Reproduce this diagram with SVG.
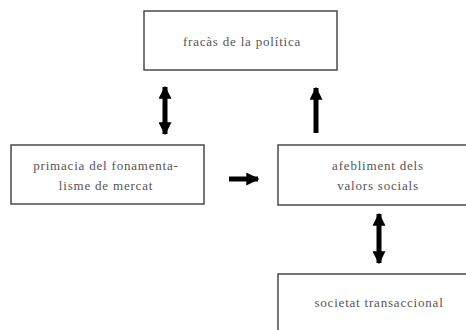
<svg xmlns="http://www.w3.org/2000/svg" width="466" height="330" viewBox="0 0 466 330">
<style>
.box{fill:#fff;stroke:#4a4a4a;stroke-width:1.5}
.t{font-family:"Liberation Serif",serif;font-size:13px;letter-spacing:0.8px;fill:#555;text-anchor:middle}
.a{stroke:#000;stroke-width:5;fill:none}
</style>
<defs>
<marker id="h" viewBox="0 0 10 10" refX="9" refY="5" markerWidth="13" markerHeight="13" markerUnits="userSpaceOnUse" orient="auto-start-reverse">
<path d="M0,0 L10,5 L0,10 Z" fill="#000"/>
</marker>
</defs>
<rect width="466" height="330" fill="#fff"/>
<g id="n1"><rect class="box" x="144" y="11" width="193" height="59"/><text class="t" x="242" y="46">fracàs de la política</text></g>
<g id="n2"><rect class="box" x="11" y="145" width="193" height="59"/><text class="t" x="106" y="170">primacia del fonamenta-</text><text class="t" x="106" y="190">lisme de mercat</text></g>
<g id="n3"><rect class="box" x="278" y="145" width="200" height="60"/><text class="t" x="378" y="170">afebliment dels</text><text class="t" x="378" y="190">valors socials</text></g>
<g id="n4"><rect class="box" x="278" y="274" width="200" height="70"/><text class="t" x="379" y="307">societat transaccional</text></g>
<g id="edges">
<line class="a" x1="165" y1="87" x2="165" y2="134" marker-start="url(#h)" marker-end="url(#h)"/>
<line class="a" x1="316" y1="133" x2="316" y2="88" marker-end="url(#h)"/>
<line class="a" x1="229" y1="179" x2="258" y2="179" marker-end="url(#h)"/>
<line class="a" x1="379" y1="214" x2="379" y2="263" marker-start="url(#h)" marker-end="url(#h)"/>
</g>
</svg>
